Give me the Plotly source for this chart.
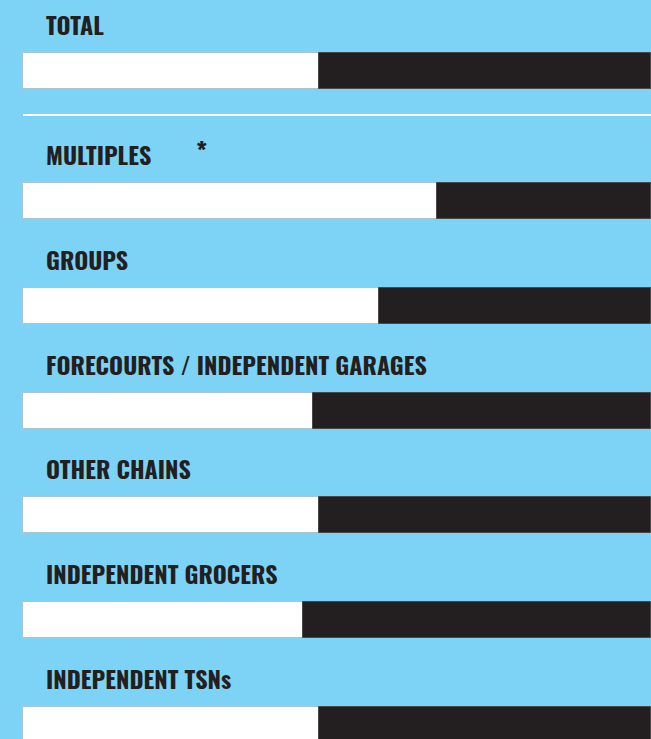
import plotly.graph_objects as go

categories = ["TOTAL", "MULTIPLES", "GROUPS", "FORECOURTS / INDEPENDENT GARAGES",
              "OTHER CHAINS", "INDEPENDENT GROCERS", "INDEPENDENT TSNs"]
white_share = [47.1, 65.9, 56.7, 46.2, 47.1, 44.6, 47.1]
dark_share = [round(100 - v, 1) for v in white_share]

BG = "#7dd3f6"
DARK = "#231f20"
FONT = "Oswald, Roboto Condensed, sans-serif"

# vertical positions: extra gap after TOTAL
ypos = [0.0] + [1.24 + i for i in range(len(categories) - 1)]

fig = go.Figure()
fig.add_trace(go.Bar(
    y=ypos, x=white_share, orientation="h", width=0.344,
    marker=dict(color="white", line=dict(color="#a9c4d2", width=1)),
    hoverinfo="skip", showlegend=False,
))
fig.add_trace(go.Bar(
    y=ypos, x=dark_share, base=white_share, orientation="h", width=0.344,
    marker=dict(color=DARK, line=dict(color="#4a4849", width=1)),
    hoverinfo="skip", showlegend=False,
))

for c, y in zip(categories, ypos):
    fig.add_annotation(
        x=0, y=y, xref="x", yref="y", text="<b>" + c + "</b>", showarrow=False,
        xanchor="left", yanchor="middle", xshift=21, yshift=47,
        font=dict(family=FONT, size=24, color=DARK),
    )

fig.add_annotation(
    x=0, y=ypos[1], xref="x", yref="y", text="<b>*</b>", showarrow=False,
    xanchor="center", yanchor="middle", xshift=179, yshift=50,
    font=dict(family=FONT, size=26, color=DARK),
)

fig.add_shape(type="line", xref="x", yref="y", x0=0, x1=100,
              y0=0.42, y1=0.42, line=dict(color="white", width=2))

fig.update_layout(
    width=651, height=739, margin=dict(l=0, r=0, t=0, b=0),
    paper_bgcolor=BG, plot_bgcolor=BG, barmode="overlay", bargap=0,
    xaxis=dict(range=[-3.66, 100], visible=False, fixedrange=True),
    yaxis=dict(range=[6.374, -0.678], visible=False, fixedrange=True),
)

fig.write_html("out.html", config={"displayModeBar": False},
               post_script="document.body.style.margin='0';document.body.style.overflow='hidden';")
